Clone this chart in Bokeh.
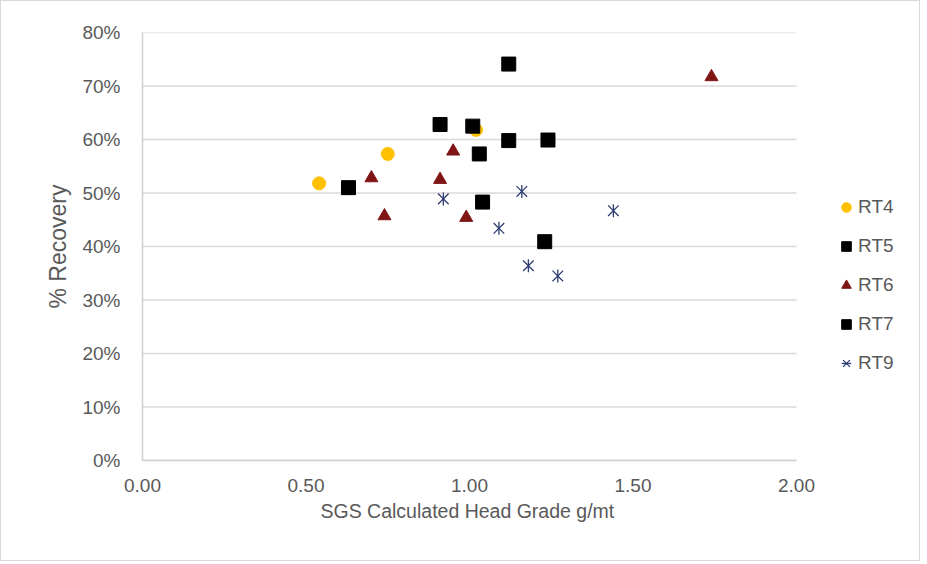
from bokeh.plotting import figure
from bokeh.models import Range1d, NumeralTickFormatter, FixedTicker, Legend, LegendItem, Title
from bokeh.embed import file_html
from bokeh.resources import INLINE

# ---- data ----
rt4_x = [0.54, 0.75, 1.02]
rt4_y = [0.518, 0.573, 0.618]

rt5_x = [0.91, 1.12, 1.24, 1.04, 1.23]
rt5_y = [0.628, 0.741, 0.599, 0.483, 0.409]

rt6_x = [0.70, 0.74, 0.91, 0.95, 0.99, 1.74]
rt6_y = [0.528, 0.457, 0.525, 0.578, 0.454, 0.717]

rt7_x = [0.63, 1.01, 1.03, 1.12]
rt7_y = [0.510, 0.625, 0.573, 0.598]

rt9_x = [0.92, 1.16, 1.09, 1.18, 1.27, 1.44]
rt9_y = [0.489, 0.503, 0.434, 0.364, 0.345, 0.467]

x_ticks = [0.0, 0.5, 1.0, 1.5, 2.0]
y_ticks = [0.0, 0.1, 0.2, 0.3, 0.4, 0.5, 0.6, 0.7, 0.8]
X_MIN, X_MAX = 0.0, 2.0
Y_MIN, Y_MAX = 0.0, 0.8

FONT = "Liberation Sans"
TXT = "#595959"
GRID = "#d9d9d9"

# layout: the frame is widened to the right so that the legend can sit inside it;
# the axis and grid lines stop at X_MAX
W, H = 920, 561
LEFT, RIGHT, TOP, BOTTOM = 141, 10, 31, 102
AXIS_W = 654                       # pixel width of the 0..2 axis
frame_w = W - LEFT - RIGHT
x_end = X_MIN + (X_MAX - X_MIN) * frame_w / AXIS_W

p = figure(width=W, height=H, output_backend="svg", toolbar_location=None,
           x_range=Range1d(X_MIN, x_end), y_range=Range1d(Y_MIN, Y_MAX),
           min_border_left=LEFT, min_border_top=TOP,
           min_border_right=RIGHT, min_border_bottom=BOTTOM)
p.outline_line_color = None
p.background_fill_color = "white"
p.border_fill_color = "white"
p.styles = {"border": "1px solid #d9d9d9"}

p.xgrid.visible = False
p.ygrid.visible = False
p.segment(x0=[X_MIN] * len(y_ticks), x1=[X_MAX] * len(y_ticks), y0=y_ticks, y1=y_ticks,
          line_color=GRID, line_width=1.5)

p.xaxis.ticker = FixedTicker(ticks=x_ticks)
p.yaxis.ticker = FixedTicker(ticks=y_ticks)
p.xaxis.formatter = NumeralTickFormatter(format="0.00")
p.yaxis.formatter = NumeralTickFormatter(format="0%")
p.xaxis.bounds = (X_MIN, X_MAX)

for ax in (p.xaxis, p.yaxis):
    ax.major_tick_line_color = None
    ax.minor_tick_line_color = None
    ax.axis_line_color = "#d0d0d0"
    ax.axis_line_width = 1.5
    ax.major_label_text_font = FONT
    ax.major_label_text_font_size = "19px"
    ax.major_label_text_color = TXT
    ax.axis_label_text_font = FONT
    ax.axis_label_text_font_style = "normal"
    ax.axis_label_text_color = TXT

p.yaxis.axis_label = "% Recovery"
p.yaxis.axis_label_text_font_size = "23px"
p.xaxis.major_label_standoff = 12
p.yaxis.major_label_standoff = 16
p.yaxis.axis_label_standoff = 8

# x-axis title, placed under the 0..2 axis (not under the widened frame)
xtitle = Title(text="SGS Calculated Head Grade g/mt", align="left", offset=178,
               text_font=FONT, text_font_size="19.5px", text_font_style="normal",
               text_color=TXT, standoff=6)
p.add_layout(xtitle, "below")

r4 = p.scatter(rt4_x, rt4_y, marker="circle", size=13, fill_color="#FFC000", line_color="#FFC000")
r5 = p.scatter(rt5_x, rt5_y, marker="square", size=14, fill_color="black", line_color="black")
r6 = p.scatter(rt6_x, rt6_y, marker="triangle", size=13, fill_color="#7F1515", line_color="#7F1515")
r7 = p.scatter(rt7_x, rt7_y, marker="square", size=14, fill_color="black", line_color="black")
r9a = p.scatter(rt9_x, rt9_y, marker="x", size=15, line_color="#2F3D73", line_width=1.3)
r9b = p.scatter(rt9_x, rt9_y, marker="dash", size=13, angle=1.5708, line_color="#2F3D73", line_width=1.3)

legend = Legend(items=[
    LegendItem(label="RT4", renderers=[r4]),
    LegendItem(label="RT5", renderers=[r5]),
    LegendItem(label="RT6", renderers=[r6]),
    LegendItem(label="RT7", renderers=[r7]),
    LegendItem(label="RT9", renderers=[r9a, r9b]),
], location=(692, 81))
legend.border_line_color = None
legend.background_fill_alpha = 0
legend.label_text_font = FONT
legend.label_text_font_size = "19px"
legend.label_text_color = TXT
legend.glyph_width = 24
legend.glyph_height = 32
legend.label_height = 20
legend.spacing = 7
legend.padding = 0
legend.margin = 0
legend.label_standoff = 0
p.add_layout(legend, "center")

open("out.html", "w").write(file_html(p, INLINE))
